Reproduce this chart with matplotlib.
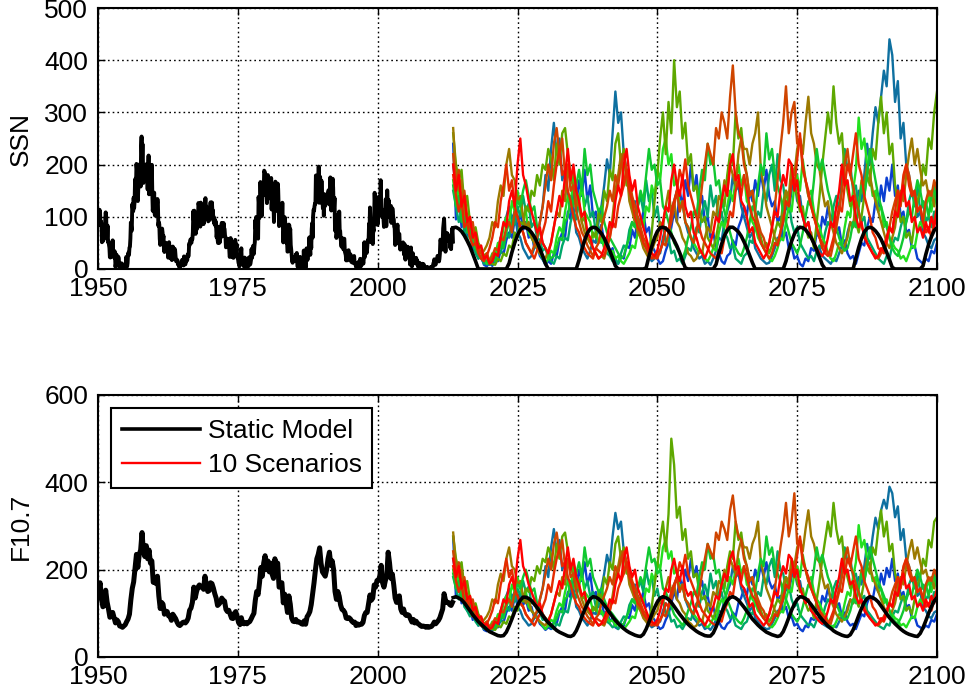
#!/usr/bin/env python3
# SSN and F10.7: historical record, static model and 10 scenarios up to 2100
import numpy as np
import matplotlib.pyplot as plt

plt.rcParams['font.family'] = ['Liberation Sans', 'DejaVu Sans']

# monthly sunspot number, Jan 1950 - Jun 2013
ssn_hist = [
    101.6, 94.8, 109.7, 113.4, 106.2, 83.6, 91.0, 85.2, 51.3, 61.4, 54.8, 54.1,
    59.9, 59.9, 59.9, 92.9, 108.5, 100.6, 61.5, 61.0, 83.1, 51.6, 52.4, 45.8,
    40.7, 22.7, 22.0, 29.1, 23.4, 36.4, 39.3, 54.9, 28.2, 23.8, 22.1, 34.3,
    26.5, 3.9, 10.0, 27.8, 12.5, 21.8, 8.6, 23.5, 19.3, 8.2, 1.6, 2.5,
    0.2, 0.5, 10.9, 1.8, 0.8, 0.2, 4.8, 8.4, 1.5, 7.0, 9.2, 7.6,
    23.1, 20.8, 4.9, 11.3, 28.9, 31.7, 26.7, 40.7, 42.7, 58.5, 89.2, 76.9,
    73.6, 124.0, 118.4, 110.7, 136.6, 116.6, 129.1, 169.6, 173.2, 155.3, 201.3, 192.1,
    165.0, 130.2, 157.4, 175.2, 164.6, 200.7, 187.2, 158.0, 235.8, 253.8, 210.9, 239.4,
    202.5, 164.9, 190.7, 196.0, 175.3, 171.5, 191.4, 200.2, 201.2, 181.5, 152.3, 187.6,
    217.4, 143.1, 185.7, 163.3, 172.0, 168.7, 149.6, 199.6, 145.2, 111.4, 124.0, 125.0,
    146.3, 106.0, 102.2, 122.0, 119.6, 110.2, 121.7, 134.1, 127.2, 82.8, 89.6, 85.6,
    57.9, 46.1, 53.0, 61.4, 51.0, 77.4, 70.2, 55.9, 63.6, 37.7, 32.6, 40.0,
    38.7, 50.3, 45.6, 46.4, 43.7, 42.0, 21.8, 21.8, 51.3, 39.5, 26.9, 23.2,
    19.8, 24.4, 17.1, 29.3, 43.0, 35.9, 19.6, 33.2, 38.8, 35.3, 23.4, 14.9,
    15.3, 17.7, 16.5, 8.6, 9.5, 9.1, 3.1, 9.3, 4.7, 6.1, 7.4, 15.1,
    17.5, 14.2, 11.7, 6.8, 24.1, 15.9, 11.9, 8.9, 16.8, 20.1, 15.8, 17.0,
    28.2, 24.4, 25.3, 48.7, 45.3, 47.7, 56.7, 51.2, 50.2, 57.2, 57.2, 70.4,
    110.9, 93.6, 111.8, 69.5, 86.5, 67.3, 91.5, 107.2, 76.8, 88.2, 94.3, 126.4,
    121.8, 111.9, 92.2, 81.2, 127.2, 110.3, 96.1, 109.3, 117.2, 107.7, 86.0, 109.8,
    104.4, 120.5, 135.8, 106.8, 120.0, 106.0, 96.8, 98.0, 91.3, 95.7, 93.5, 97.9,
    111.5, 127.8, 102.9, 109.5, 127.5, 106.8, 112.5, 93.0, 99.5, 86.6, 95.2, 83.5,
    91.3, 79.0, 60.7, 71.8, 57.5, 49.8, 81.0, 61.4, 50.2, 51.7, 63.2, 82.2,
    61.5, 88.4, 80.1, 63.2, 80.5, 88.0, 76.5, 76.8, 64.0, 61.3, 41.6, 45.3,
    43.4, 42.9, 46.0, 57.7, 42.4, 39.5, 23.1, 25.6, 59.3, 30.7, 23.9, 23.3,
    27.6, 26.0, 21.3, 40.3, 39.5, 36.0, 55.8, 33.6, 40.2, 47.1, 25.0, 20.5,
    18.9, 11.5, 11.5, 5.1, 9.0, 11.4, 28.2, 39.7, 13.9, 9.1, 19.4, 7.8,
    8.1, 4.3, 21.9, 18.8, 12.4, 12.2, 1.9, 16.4, 13.5, 20.6, 5.2, 15.3,
    16.4, 23.1, 8.7, 12.9, 18.6, 38.5, 21.4, 30.1, 44.0, 43.8, 29.1, 43.2,
    51.9, 93.6, 76.5, 99.7, 82.7, 95.1, 70.4, 58.1, 138.2, 125.1, 97.9, 122.7,
    166.6, 137.5, 138.0, 101.5, 134.4, 149.5, 159.4, 142.2, 188.4, 186.2, 183.3, 176.3,
    159.6, 155.0, 126.2, 164.1, 179.9, 157.3, 136.3, 135.4, 155.0, 164.7, 147.9, 174.4,
    114.0, 141.3, 135.5, 156.4, 127.5, 90.0, 143.8, 158.7, 167.3, 162.4, 137.5, 150.1,
    111.2, 163.6, 153.8, 122.0, 82.2, 110.4, 106.1, 107.6, 118.8, 94.7, 98.1, 127.0,
    84.3, 51.0, 66.5, 80.7, 99.2, 91.1, 82.2, 71.8, 50.3, 55.8, 33.3, 33.4,
    57.0, 85.1, 83.5, 69.7, 76.4, 46.1, 37.4, 25.5, 15.7, 12.0, 22.8, 18.7,
    16.5, 15.9, 17.2, 16.2, 27.5, 24.2, 30.7, 11.1, 3.9, 18.6, 16.2, 17.3,
    2.5, 23.2, 15.1, 18.5, 13.7, 1.1, 18.1, 7.4, 3.8, 35.4, 15.2, 6.8,
    10.4, 2.4, 14.7, 39.6, 33.0, 17.4, 33.0, 38.7, 33.9, 60.6, 39.9, 27.1,
    59.0, 40.0, 76.2, 88.0, 60.1, 101.8, 113.8, 111.6, 120.1, 125.1, 125.1, 179.2,
    161.3, 165.1, 131.4, 130.6, 138.5, 196.2, 126.9, 168.9, 176.7, 159.4, 127.2, 169.0,
    137.9, 132.5, 116.4, 136.7, 101.9, 143.5, 126.5, 120.8, 132.0, 127.2, 132.9, 142.6,
    140.9, 143.5, 150.8, 146.3, 123.5, 153.5, 175.5, 132.1, 112.0, 127.0, 137.2, 172.9,
    155.5, 115.5, 119.1, 136.1, 73.5, 85.0, 103.2, 59.5, 68.4, 94.4, 94.2, 101.4,
    65.9, 110.1, 74.9, 73.0, 58.6, 50.8, 42.6, 59.6, 54.2, 46.7, 37.8, 56.8,
    58.0, 33.9, 30.5, 26.8, 16.4, 33.6, 27.1, 16.6, 31.6, 36.0, 19.4, 26.3,
    21.1, 28.3, 23.9, 13.5, 21.3, 20.7, 11.8, 13.0, 16.5, 24.9, 11.8, 9.6,
    10.9, 4.0, 8.8, 8.5, 10.9, 12.2, 7.2, 13.7, 0.5, 2.4, 19.5, 7.6,
    5.7, 8.7, 15.5, 18.5, 12.7, 10.4, 24.4, 51.3, 22.8, 39.0, 41.2, 43.0,
    30.6, 39.9, 53.7, 55.9, 52.5, 86.6, 66.4, 117.8, 80.9, 51.8, 66.0, 71.8,
    84.5, 47.8, 76.7, 72.4, 100.8, 146.0, 124.1, 100.6, 92.5, 125.8, 131.2, 84.6,
    90.1, 112.9, 138.5, 125.5, 121.6, 124.9, 170.1, 130.5, 109.7, 99.4, 106.8, 104.4,
    95.6, 80.6, 113.5, 107.7, 96.6, 134.0, 81.8, 106.4, 150.7, 125.5, 106.5, 132.2,
    114.1, 107.4, 98.4, 120.7, 120.8, 88.3, 99.6, 116.4, 109.6, 97.5, 95.5, 80.8,
    79.7, 46.0, 61.1, 60.0, 55.2, 77.4, 85.0, 72.7, 48.8, 65.5, 67.3, 47.0,
    37.2, 46.0, 48.9, 39.3, 41.5, 43.2, 51.0, 40.9, 27.7, 48.0, 43.5, 17.9,
    31.3, 29.2, 24.5, 24.2, 42.7, 39.3, 40.0, 36.4, 22.1, 8.5, 18.0, 41.2,
    15.3, 4.9, 10.6, 30.2, 22.3, 13.9, 12.2, 12.9, 14.4, 10.5, 21.4, 13.6,
    16.9, 10.6, 4.8, 3.7, 11.7, 12.0, 10.0, 6.2, 2.4, 0.9, 1.7, 10.1,
    3.4, 2.1, 9.3, 2.9, 3.2, 3.4, 0.5, 0.5, 1.1, 2.9, 4.1, 0.8,
    1.5, 1.4, 0.7, 1.2, 2.9, 2.6, 3.5, 0.0, 4.2, 4.6, 4.2, 10.6,
    13.1, 18.6, 15.4, 7.9, 8.8, 13.5, 16.1, 19.6, 25.2, 23.5, 21.6, 14.5,
    19.0, 29.4, 56.2, 54.4, 41.6, 37.0, 43.9, 50.6, 78.0, 88.0, 96.7, 73.0,
    58.3, 33.1, 64.2, 55.2, 69.0, 64.5, 66.5, 63.0, 61.4, 53.3, 61.8, 40.8,
    62.9, 38.0, 57.9, 72.4, 78.7, 52.5,
]

# quarterly F10.7, 1950 Q1 - 2013 Q2
f107_hist = [
    154, 170, 132, 115, 118, 153, 126, 110, 91, 93, 102, 90, 78, 85, 81, 71,
    70, 68, 71, 74, 81, 87, 98, 131, 157, 172, 203, 235, 205, 235, 245, 285,
    240, 230, 255, 225, 245, 215, 220, 171, 175, 168, 185, 140, 111, 125, 121, 98,
    105, 104, 94, 93, 84, 98, 93, 88, 80, 74, 72, 75, 79, 80, 78, 82,
    89, 107, 112, 125, 160, 135, 150, 160, 165, 160, 162, 155, 185, 165, 150, 152,
    170, 168, 158, 145, 135, 118, 121, 125, 135, 130, 128, 109, 104, 107, 98, 89,
    88, 100, 104, 93, 79, 74, 90, 77, 76, 79, 76, 79, 81, 87, 94, 100,
    130, 150, 143, 170, 205, 185, 215, 232, 200, 220, 195, 215, 190, 180, 225, 205,
    215, 160, 165, 170, 124, 144, 125, 102, 140, 121, 89, 82, 81, 86, 80, 81,
    79, 76, 75, 83, 75, 92, 97, 104, 120, 145, 170, 200, 225, 235, 250, 215,
    195, 190, 185, 200, 225, 240, 210, 220, 200, 150, 132, 150, 139, 119, 109, 107,
    102, 89, 88, 90, 87, 82, 79, 80, 72, 76, 73, 75, 75, 79, 95, 102,
    102, 122, 142, 130, 135, 165, 160, 175, 175, 185, 210, 170, 160, 175, 185, 240,
    215, 180, 190, 165, 135, 125, 130, 140, 110, 102, 110, 98, 95, 97, 95, 87,
    80, 86, 78, 82, 77, 75, 72, 70, 71, 70, 68, 70, 68, 69, 70, 74,
    80, 76, 80, 84, 90, 100, 110, 145, 130, 125, 125, 120, 118, 125,
]

# static model, half-yearly from 2013.5 to 2100.0
ssn_static = [
    79, 80, 77, 72, 64, 54, 43, 29, 15, 0, 0, 0, 0,
    0, 0, 0, 0, 0, 0, 0, 11, 32, 50, 65, 75, 80, 79, 76, 70, 62, 51, 39, 25,
    10, 0, 0, 0, 0, 0, 0, 0, 0, 0, 0, 0, 17, 37, 55, 69, 77, 80, 79, 74,
    68, 59, 47, 35, 21, 6, 0, 0, 0, 0, 0, 0, 0, 0, 0, 0, 2, 24, 43, 60,
    72, 79, 80, 78, 73, 65, 55, 44, 31, 16, 2, 0, 0, 0, 0, 0, 0, 0, 0, 0,
    0, 9, 30, 48, 64, 74, 80, 80, 76, 71, 63, 52, 40, 26, 12, 0, 0, 0, 0, 0,
    0, 0, 0, 0, 0, 0, 15, 36, 53, 67, 76, 80, 79, 75, 68, 60, 49, 36, 22, 8,
    0, 0, 0, 0, 0, 0, 0, 0, 0, 0, 0, 21, 41, 58, 71, 78, 80, 78, 73, 66,
    57, 45, 32, 18, 3, 0, 0, 0, 0, 0, 0, 0, 0, 0, 0, 6, 28, 47, 62, 74,
    79,
]
f107_static = [
    136, 138, 135, 131, 124, 115, 106, 97, 89, 81, 75, 69, 63,
    58, 55, 52, 49, 48, 49, 57, 71, 87, 104, 118, 130, 137, 137, 134, 129, 121, 113, 104, 95,
    86, 79, 73, 67, 61, 57, 54, 51, 48, 47, 50, 60, 75, 92, 108, 122, 133, 138, 137, 133,
    127, 119, 110, 101, 92, 84, 77, 71, 65, 60, 56, 53, 50, 48, 47, 52, 64, 80, 97, 113,
    126, 135, 138, 136, 132, 125, 116, 107, 98, 90, 82, 75, 69, 64, 59, 55, 52, 49, 48, 48,
    55, 69, 85, 102, 117, 129, 136, 138, 135, 130, 122, 114, 105, 96, 87, 80, 73, 67, 62, 57,
    54, 51, 49, 47, 49, 58, 73, 90, 107, 121, 132, 138, 137, 134, 128, 120, 111, 102, 93, 85,
    78, 71, 66, 60, 56, 53, 50, 48, 47, 51, 62, 78, 95, 111, 125, 134, 138, 136, 132, 126,
    117, 108, 99, 90, 83, 76, 70, 64, 59, 55, 52, 50, 48, 47, 54, 67, 83, 100, 115, 128,
    136,
]

# scenarios, half-yearly from 2013.5 to 2100.0
ssn_sc01 = [
    240, 95, 140, 80, 100, 60, 70, 35, 45, 20, 25, 8, 5,
    12, 6, 20, 15, 35, 28, 55, 70, 60, 95, 80, 110, 75, 90, 60, 70, 40, 45, 25, 18,
    8, 15, 10, 30, 25, 55, 70, 60, 110, 95, 150, 120, 170, 140, 190, 130, 160, 100, 110, 70,
    85, 50, 60, 30, 40, 15, 10, 25, 20, 45, 40, 75, 60, 100, 85, 110, 70, 80, 45, 35,
    20, 10, 15, 35, 50, 80, 110, 90, 150, 120, 170, 140, 200, 150, 180, 120, 140, 90, 100, 60,
    70, 40, 30, 15, 10, 25, 30, 55, 45, 80, 95, 120, 100, 150, 130, 170, 140, 185, 150, 190,
    140, 120, 130, 90, 100, 60, 70, 40, 45, 20, 25, 10, 5, 20, 15, 40, 35, 70, 60, 100,
    85, 120, 90, 110, 70, 80, 45, 55, 30, 20, 25, 10, 30, 50, 45, 80, 100, 90, 130, 110,
    160, 130, 175, 150, 200, 140, 160, 100, 110, 70, 75, 40, 45, 20, 15, 10, 20, 15, 35, 30,
    50,
]
ssn_sc02 = [
    200, 150, 120, 140, 90, 75, 85, 50, 40, 30, 20, 12, 8,
    10, 8, 25, 40, 60, 85, 100, 120, 95, 110, 70, 60, 40, 30, 20, 25, 40, 55, 90, 120,
    180, 150, 230, 280, 220, 250, 170, 190, 140, 110, 120, 70, 60, 40, 30, 20, 35, 55, 50, 90,
    120, 160, 210, 180, 260, 340, 280, 300, 220, 190, 160, 120, 130, 80, 70, 50, 40, 25, 15, 20,
    35, 30, 60, 80, 70, 110, 130, 150, 115, 130, 90, 70, 60, 40, 30, 20, 25, 10, 15, 8,
    20, 35, 60, 55, 90, 110, 130, 180, 150, 160, 120, 100, 80, 60, 70, 40, 30, 20, 15, 10,
    12, 25, 40, 60, 55, 90, 120, 110, 150, 170, 130, 140, 100, 80, 90, 60, 50, 35, 40, 25,
    20, 15, 10, 20, 15, 30, 45, 40, 70, 90, 80, 120, 150, 130, 180, 240, 200, 260, 310, 280,
    330, 380, 350, 440, 410, 320, 360, 250, 280, 200, 180, 140, 150, 100, 110, 70, 60, 45, 40, 55,
    60,
]
ssn_sc03 = [
    150, 120, 90, 110, 70, 60, 45, 50, 30, 20, 25, 10, 15,
    8, 20, 15, 35, 30, 55, 70, 60, 95, 85, 120, 100, 140, 110, 125, 80, 90, 60, 55, 35,
    40, 20, 15, 10, 25, 20, 45, 60, 55, 90, 110, 95, 130, 160, 120, 140, 100, 110, 70, 80,
    50, 55, 30, 25, 15, 20, 10, 30, 45, 40, 75, 90, 80, 120, 140, 110, 170, 130, 150, 100,
    120, 80, 90, 50, 60, 30, 35, 15, 20, 10, 25, 40, 35, 60, 80, 70, 110, 130, 100, 160,
    120, 140, 90, 110, 70, 60, 40, 45, 20, 15, 10, 25, 30, 55, 50, 90, 110, 100, 150, 130,
    180, 200, 150, 220, 170, 160, 120, 130, 90, 70, 80, 50, 40, 30, 20, 25, 15, 35, 45, 40,
    70, 90, 80, 120, 140, 110, 170, 230, 190, 200, 150, 160, 110, 90, 100, 60, 50, 40, 30, 20,
    15, 10, 25, 20, 45, 60, 55, 80, 100, 90, 130, 150, 120, 160, 110, 130, 90, 100, 80, 110,
    90,
]
ssn_sc04 = [
    170, 130, 160, 100, 110, 80, 60, 70, 40, 30, 20, 25, 10,
    15, 30, 25, 50, 45, 80, 100, 85, 130, 110, 150, 120, 100, 110, 70, 60, 50, 40, 30, 20,
    10, 20, 35, 30, 60, 80, 70, 110, 140, 120, 180, 150, 130, 160, 110, 100, 90, 60, 70, 50,
    60, 40, 45, 30, 35, 20, 25, 15, 10, 20, 30, 45, 40, 70, 95, 80, 120, 110, 160, 140,
    190, 170, 230, 250, 200, 220, 160, 170, 120, 130, 90, 80, 60, 50, 40, 30, 35, 20, 15, 25,
    40, 35, 70, 90, 80, 120, 150, 130, 170, 200, 160, 180, 130, 120, 90, 80, 60, 50, 40, 30,
    20, 15, 25, 40, 60, 55, 90, 120, 110, 160, 180, 150, 210, 170, 140, 150, 110, 90, 80, 60,
    50, 30, 20, 15, 30, 50, 45, 80, 110, 100, 150, 190, 290, 230, 250, 200, 180, 140, 150, 110,
    120, 80, 90, 60, 50, 40, 35, 20, 25, 15, 30, 45, 40, 70, 90, 80, 120, 140, 110, 150,
    130,
]
ssn_sc05 = [
    260, 200, 170, 190, 120, 140, 90, 70, 80, 50, 40, 25, 30,
    15, 10, 8, 20, 15, 30, 25, 45, 40, 70, 60, 90, 85, 120, 110, 150, 140, 180, 160, 200,
    190, 230, 210, 170, 240, 200, 260, 270, 220, 180, 190, 140, 120, 90, 100, 60, 50, 70, 60, 110,
    90, 150, 130, 190, 170, 240, 260, 200, 230, 160, 170, 120, 90, 100, 60, 45, 50, 30, 70, 130,
    180, 250, 300, 220, 320, 260, 400, 310, 340, 250, 280, 200, 220, 150, 160, 110, 90, 100, 60, 50,
    40, 60, 90, 140, 120, 180, 220, 200, 300, 250, 270, 210, 180, 140, 150, 100, 80, 60, 40, 50,
    30, 45, 70, 90, 80, 130, 150, 120, 180, 160, 140, 110, 120, 80, 60, 70, 40, 90, 140, 200,
    250, 300, 260, 350, 280, 240, 260, 180, 150, 120, 130, 90, 70, 100, 140, 180, 160, 230, 210, 280,
    330, 260, 300, 220, 240, 160, 130, 90, 100, 60, 70, 50, 90, 130, 150, 200, 180, 250, 230, 300,
    340,
]
ssn_sc06 = [
    270, 180, 150, 170, 110, 90, 100, 60, 50, 40, 30, 35, 45,
    60, 90, 80, 130, 160, 140, 200, 230, 180, 170, 130, 140, 100, 80, 90, 60, 50, 40, 30, 25,
    20, 35, 50, 80, 110, 100, 150, 130, 200, 170, 160, 120, 130, 90, 70, 60, 50, 40, 30, 20,
    25, 20, 40, 60, 100, 150, 180, 220, 160, 190, 130, 110, 90, 70, 60, 40, 30, 20, 35, 50,
    60, 90, 80, 120, 150, 110, 130, 90, 80, 60, 50, 30, 25, 15, 20, 35, 30, 60, 80, 70,
    110, 100, 140, 130, 170, 150, 200, 180, 160, 220, 250, 230, 230, 200, 240, 260, 300, 190, 160, 120,
    100, 80, 60, 50, 70, 110, 150, 140, 200, 180, 230, 250, 220, 280, 330, 260, 240, 200, 190, 150,
    120, 130, 90, 70, 50, 40, 30, 45, 60, 90, 80, 130, 120, 170, 160, 200, 180, 150, 130, 110,
    90, 70, 50, 40, 60, 80, 120, 150, 130, 180, 220, 250, 200, 230, 190, 160, 170, 140, 150, 120,
    160,
]
ssn_sc07 = [
    220, 160, 190, 130, 150, 100, 80, 90, 50, 40, 30, 20, 30,
    15, 25, 40, 35, 60, 55, 80, 90, 70, 110, 100, 80, 70, 50, 40, 30, 45, 60, 90, 120,
    160, 200, 170, 240, 270, 220, 250, 180, 200, 150, 160, 110, 90, 70, 60, 45, 35, 25, 40, 50,
    80, 100, 120, 150, 130, 180, 160, 200, 220, 190, 170, 140, 120, 100, 80, 60, 50, 40, 30, 20,
    25, 35, 50, 45, 70, 90, 120, 150, 110, 130, 90, 80, 60, 50, 70, 110, 160, 200, 240, 220,
    200, 270, 250, 300, 280, 250, 330, 390, 300, 260, 250, 200, 180, 140, 150, 110, 90, 70, 60, 40,
    50, 80, 120, 170, 230, 280, 350, 260, 300, 320, 240, 250, 190, 170, 140, 120, 100, 80, 60, 50,
    40, 30, 25, 50, 80, 110, 150, 200, 230, 180, 160, 130, 110, 80, 70, 50, 40, 30, 25, 20,
    30, 45, 60, 80, 110, 130, 150, 120, 170, 200, 180, 150, 140, 110, 120, 90, 130, 150, 140, 170,
    150,
]
ssn_sc08 = [
    200, 150, 180, 120, 140, 90, 100, 60, 70, 40, 45, 20, 25,
    10, 15, 30, 25, 60, 90, 80, 130, 150, 120, 200, 250, 180, 160, 130, 110, 90, 70, 80, 50,
    40, 30, 50, 80, 110, 140, 120, 180, 230, 170, 200, 150, 130, 100, 110, 70, 60, 40, 30, 20,
    25, 40, 60, 90, 80, 130, 160, 140, 200, 230, 180, 150, 170, 120, 100, 80, 60, 40, 30, 25,
    35, 60, 90, 120, 110, 170, 200, 160, 140, 180, 120, 100, 110, 70, 60, 40, 30, 20, 35, 50,
    70, 100, 90, 130, 160, 140, 200, 220, 170, 180, 130, 120, 100, 70, 80, 50, 40, 30, 20, 30,
    50, 80, 110, 100, 150, 180, 160, 210, 200, 150, 170, 120, 100, 80, 90, 60, 50, 40, 30, 25,
    35, 60, 90, 80, 120, 150, 200, 160, 170, 130, 140, 100, 80, 90, 60, 50, 40, 30, 20, 25,
    40, 35, 60, 80, 70, 110, 100, 140, 160, 120, 130, 90, 100, 70, 80, 60, 90, 70, 100, 80,
    110,
]
ssn_sc09 = [
    160, 120, 140, 90, 100, 70, 80, 50, 40, 30, 35, 20, 15,
    10, 20, 15, 30, 45, 40, 70, 90, 80, 110, 130, 120, 150, 170, 140, 110, 120, 80, 70, 50,
    40, 30, 20, 25, 40, 60, 55, 90, 100, 140, 120, 160, 190, 150, 230, 180, 200, 150, 130, 110,
    120, 90, 70, 60, 50, 40, 30, 20, 25, 45, 60, 90, 80, 120, 150, 130, 180, 230, 190, 200,
    160, 170, 120, 110, 90, 70, 50, 40, 30, 20, 35, 60, 80, 110, 100, 150, 190, 170, 240, 200,
    210, 160, 170, 130, 110, 90, 70, 50, 40, 30, 25, 40, 60, 90, 120, 110, 160, 200, 180, 260,
    210, 230, 180, 160, 140, 110, 90, 70, 50, 40, 30, 45, 70, 100, 130, 120, 170, 230, 190, 210,
    180, 150, 130, 100, 80, 60, 45, 35, 40, 60, 90, 80, 120, 160, 140, 180, 230, 200, 170, 140,
    120, 100, 80, 60, 40, 30, 25, 40, 60, 90, 110, 100, 140, 170, 150, 120, 130, 100, 140, 160,
    120,
]
ssn_sc10 = [
    180, 140, 110, 130, 80, 90, 60, 45, 50, 30, 20, 15, 25,
    40, 60, 90, 80, 130, 160, 200, 150, 170, 120, 100, 80, 70, 50, 40, 30, 20, 35, 50, 70,
    90, 130, 110, 160, 200, 230, 180, 190, 150, 130, 100, 80, 70, 50, 40, 30, 25, 20, 40, 35,
    30, 25, 45, 60, 90, 80, 120, 140, 160, 190, 150, 130, 100, 80, 70, 50, 40, 30, 20, 25,
    20, 35, 50, 80, 70, 110, 130, 150, 190, 170, 210, 160, 140, 120, 100, 80, 60, 50, 40, 30,
    25, 20, 35, 30, 60, 80, 110, 100, 150, 170, 140, 180, 150, 120, 100, 90, 70, 50, 40, 30,
    20, 30, 50, 45, 70, 90, 130, 120, 170, 160, 210, 260, 200, 170, 150, 120, 100, 80, 60, 40,
    30, 25, 40, 60, 90, 120, 110, 160, 200, 180, 220, 260, 200, 180, 140, 120, 100, 70, 60, 40,
    35, 30, 50, 80, 70, 110, 150, 130, 180, 200, 160, 140, 150, 110, 120, 90, 70, 80, 60, 90,
    120,
]

f107_sc01 = [
    275, 136, 174, 123, 140, 106, 115, 85, 93, 72, 76, 62, 59,
    65, 60, 72, 68, 85, 79, 102, 115, 106, 136, 123, 149, 119, 132, 106, 115, 89, 93, 76, 70,
    62, 68, 64, 81, 76, 102, 115, 106, 149, 136, 183, 157, 200, 174, 217, 166, 191, 140, 149, 115,
    127, 98, 106, 81, 89, 68, 64, 76, 72, 93, 89, 119, 106, 140, 127, 149, 115, 123, 93, 85,
    72, 64, 68, 85, 98, 123, 149, 132, 183, 157, 200, 174, 225, 183, 208, 157, 174, 132, 140, 106,
    115, 89, 81, 68, 64, 76, 81, 102, 93, 123, 136, 157, 140, 183, 166, 200, 174, 212, 183, 217,
    174, 157, 166, 132, 140, 106, 115, 89, 93, 72, 76, 64, 59, 72, 68, 89, 85, 115, 106, 140,
    127, 157, 132, 149, 115, 123, 93, 102, 81, 72, 76, 64, 81, 98, 93, 123, 140, 132, 166, 149,
    191, 166, 204, 183, 225, 174, 191, 140, 149, 115, 119, 89, 93, 72, 68, 64, 72, 68, 85, 81,
    98,
]
f107_sc02 = [
    225, 183, 157, 174, 132, 119, 127, 98, 89, 81, 72, 65, 62,
    64, 62, 76, 89, 106, 127, 140, 157, 136, 149, 115, 106, 89, 81, 72, 76, 89, 102, 132, 157,
    208, 183, 251, 293, 242, 268, 200, 217, 174, 149, 157, 115, 106, 89, 81, 72, 85, 102, 98, 132,
    157, 191, 234, 208, 276, 330, 293, 310, 242, 217, 191, 157, 166, 123, 115, 98, 89, 76, 68, 72,
    85, 81, 106, 123, 115, 149, 166, 183, 153, 166, 132, 115, 106, 89, 81, 72, 76, 64, 68, 62,
    72, 85, 106, 102, 132, 149, 166, 208, 183, 191, 157, 140, 123, 106, 115, 89, 81, 72, 68, 64,
    65, 76, 89, 106, 102, 132, 157, 149, 183, 200, 166, 174, 140, 123, 132, 106, 98, 85, 89, 76,
    72, 68, 64, 72, 68, 81, 93, 89, 115, 132, 123, 157, 183, 166, 208, 259, 225, 276, 319, 293,
    336, 360, 340, 390, 375, 320, 345, 268, 293, 225, 208, 174, 183, 140, 149, 115, 106, 93, 89, 102,
    106,
]
f107_sc03 = [
    183, 157, 132, 149, 115, 106, 93, 98, 81, 72, 76, 64, 68,
    62, 72, 68, 85, 81, 102, 115, 106, 136, 127, 157, 140, 174, 149, 161, 123, 132, 106, 102, 85,
    89, 72, 68, 64, 76, 72, 93, 106, 102, 132, 149, 136, 166, 191, 157, 174, 140, 149, 115, 123,
    98, 102, 81, 76, 68, 72, 64, 81, 93, 89, 119, 132, 123, 157, 174, 149, 200, 166, 183, 140,
    157, 123, 132, 98, 106, 81, 85, 68, 72, 64, 76, 89, 85, 106, 123, 115, 149, 166, 140, 191,
    157, 174, 132, 149, 115, 106, 89, 93, 72, 68, 64, 76, 81, 102, 98, 132, 149, 140, 183, 166,
    208, 225, 183, 242, 200, 191, 157, 166, 132, 115, 123, 98, 89, 81, 72, 76, 68, 85, 93, 89,
    115, 132, 123, 157, 174, 149, 200, 251, 217, 225, 183, 191, 149, 132, 140, 106, 98, 89, 81, 72,
    68, 64, 76, 72, 93, 106, 102, 123, 140, 132, 166, 183, 157, 191, 149, 166, 132, 140, 123, 149,
    132,
]
f107_sc04 = [
    200, 166, 191, 140, 149, 123, 106, 115, 89, 81, 72, 76, 64,
    68, 81, 76, 98, 93, 123, 140, 127, 166, 149, 183, 157, 140, 149, 115, 106, 98, 89, 81, 72,
    64, 72, 85, 81, 106, 123, 115, 149, 174, 157, 208, 183, 166, 191, 149, 140, 132, 106, 115, 98,
    106, 89, 93, 81, 85, 72, 76, 68, 64, 72, 81, 93, 89, 115, 136, 123, 157, 149, 191, 174,
    217, 200, 251, 268, 225, 242, 191, 200, 157, 166, 132, 123, 106, 98, 89, 81, 85, 72, 68, 76,
    89, 85, 115, 132, 123, 157, 183, 166, 200, 225, 191, 208, 166, 157, 132, 123, 106, 98, 89, 81,
    72, 68, 76, 89, 106, 102, 132, 157, 149, 191, 208, 183, 234, 200, 174, 183, 149, 132, 123, 106,
    98, 81, 72, 68, 81, 98, 93, 123, 149, 140, 183, 217, 302, 251, 268, 225, 208, 174, 183, 149,
    157, 123, 132, 106, 98, 89, 85, 72, 76, 68, 81, 93, 89, 115, 132, 123, 157, 174, 149, 183,
    166,
]
f107_sc05 = [
    276, 225, 200, 217, 157, 174, 132, 115, 123, 98, 89, 76, 81,
    68, 64, 62, 72, 68, 81, 76, 93, 89, 115, 106, 132, 127, 157, 149, 183, 174, 208, 191, 225,
    217, 251, 234, 200, 259, 225, 276, 285, 242, 208, 217, 174, 157, 132, 140, 106, 98, 115, 106, 149,
    132, 183, 166, 217, 200, 259, 276, 225, 251, 191, 200, 157, 132, 140, 106, 93, 98, 81, 115, 166,
    208, 268, 310, 242, 327, 500, 440, 319, 344, 268, 293, 225, 242, 183, 191, 149, 132, 140, 106, 98,
    89, 106, 132, 174, 157, 208, 242, 225, 310, 268, 285, 234, 208, 174, 183, 140, 123, 106, 89, 98,
    81, 93, 115, 132, 123, 166, 183, 157, 208, 191, 174, 149, 157, 123, 106, 115, 89, 132, 174, 225,
    268, 310, 276, 353, 293, 259, 276, 208, 183, 157, 166, 132, 115, 140, 174, 208, 191, 251, 234, 293,
    336, 276, 310, 242, 259, 191, 166, 132, 140, 106, 115, 98, 132, 166, 183, 225, 208, 268, 251, 310,
    320,
]
f107_sc06 = [
    285, 208, 183, 200, 149, 132, 140, 106, 98, 89, 81, 85, 93,
    106, 132, 123, 166, 191, 174, 225, 251, 208, 200, 166, 174, 140, 123, 132, 106, 98, 89, 81, 76,
    72, 85, 98, 123, 149, 140, 183, 166, 225, 200, 191, 157, 166, 132, 115, 106, 98, 89, 81, 72,
    76, 72, 89, 106, 140, 183, 208, 242, 191, 217, 166, 149, 132, 115, 106, 89, 81, 72, 85, 98,
    106, 132, 123, 157, 183, 149, 166, 132, 123, 106, 98, 81, 76, 68, 72, 85, 81, 106, 123, 115,
    149, 140, 174, 166, 200, 183, 225, 208, 191, 242, 268, 251, 251, 225, 259, 276, 310, 217, 191, 157,
    140, 123, 106, 98, 115, 149, 183, 174, 225, 208, 251, 268, 242, 293, 336, 276, 259, 225, 217, 183,
    157, 166, 132, 115, 98, 89, 81, 93, 106, 132, 123, 166, 157, 200, 191, 225, 208, 183, 166, 149,
    132, 115, 98, 89, 106, 123, 157, 183, 166, 208, 242, 268, 225, 251, 217, 191, 200, 174, 183, 157,
    191,
]
f107_sc07 = [
    242, 191, 217, 166, 183, 140, 123, 132, 98, 89, 81, 72, 81,
    68, 76, 89, 85, 106, 102, 123, 132, 115, 149, 140, 123, 115, 98, 89, 81, 93, 106, 132, 157,
    191, 225, 200, 259, 285, 242, 268, 208, 225, 183, 191, 149, 132, 115, 106, 93, 85, 76, 89, 98,
    123, 140, 157, 183, 166, 208, 191, 225, 242, 217, 200, 174, 157, 140, 123, 106, 98, 89, 81, 72,
    76, 85, 98, 93, 115, 132, 157, 183, 149, 166, 132, 123, 106, 98, 115, 149, 191, 225, 259, 242,
    225, 285, 268, 310, 293, 268, 336, 370, 310, 276, 268, 225, 208, 174, 183, 149, 132, 115, 106, 89,
    98, 123, 157, 200, 251, 293, 353, 276, 310, 375, 259, 268, 217, 200, 174, 157, 140, 123, 106, 98,
    89, 81, 76, 98, 123, 149, 183, 225, 251, 208, 191, 166, 149, 123, 115, 98, 89, 81, 76, 72,
    81, 93, 106, 123, 149, 166, 183, 157, 200, 225, 208, 183, 174, 149, 157, 132, 166, 183, 174, 200,
    183,
]
f107_sc08 = [
    225, 183, 208, 157, 174, 132, 140, 106, 115, 89, 93, 72, 76,
    64, 68, 81, 76, 106, 132, 123, 166, 183, 157, 225, 268, 208, 191, 166, 149, 132, 115, 123, 98,
    89, 81, 98, 123, 149, 174, 157, 208, 251, 200, 225, 183, 166, 140, 149, 115, 106, 89, 81, 72,
    76, 89, 106, 132, 123, 166, 191, 174, 225, 251, 208, 183, 200, 157, 140, 123, 106, 89, 81, 76,
    85, 106, 132, 157, 149, 200, 225, 191, 174, 208, 157, 140, 149, 115, 106, 89, 81, 72, 85, 98,
    115, 140, 132, 166, 191, 174, 225, 242, 200, 208, 166, 157, 140, 115, 123, 98, 89, 81, 72, 81,
    98, 123, 149, 140, 183, 208, 191, 234, 225, 183, 200, 157, 140, 123, 132, 106, 98, 89, 81, 76,
    85, 106, 132, 123, 157, 183, 225, 191, 200, 166, 174, 140, 123, 132, 106, 98, 89, 81, 72, 76,
    89, 85, 106, 123, 115, 149, 140, 174, 191, 157, 166, 132, 140, 115, 123, 106, 132, 115, 140, 123,
    149,
]
f107_sc09 = [
    191, 157, 174, 132, 140, 115, 123, 98, 89, 81, 85, 72, 68,
    64, 72, 68, 81, 93, 89, 115, 132, 123, 149, 166, 157, 183, 200, 174, 149, 157, 123, 115, 98,
    89, 81, 72, 76, 89, 106, 102, 132, 140, 174, 157, 191, 217, 183, 251, 208, 225, 183, 166, 149,
    157, 132, 115, 106, 98, 89, 81, 72, 76, 93, 106, 132, 123, 157, 183, 166, 208, 251, 217, 225,
    191, 200, 157, 149, 132, 115, 98, 89, 81, 72, 85, 106, 123, 149, 140, 183, 217, 200, 259, 225,
    234, 191, 200, 166, 149, 132, 115, 98, 89, 81, 76, 89, 106, 132, 157, 149, 191, 225, 208, 276,
    234, 251, 208, 191, 174, 149, 132, 115, 98, 89, 81, 93, 115, 140, 166, 157, 200, 251, 217, 234,
    208, 183, 166, 140, 123, 106, 93, 85, 89, 106, 132, 123, 157, 191, 174, 208, 251, 225, 200, 174,
    157, 140, 123, 106, 89, 81, 76, 89, 106, 132, 149, 140, 174, 200, 183, 157, 166, 140, 174, 191,
    157,
]
f107_sc10 = [
    208, 174, 149, 166, 123, 132, 106, 93, 98, 81, 72, 68, 76,
    89, 106, 132, 123, 166, 191, 225, 183, 200, 157, 140, 123, 115, 98, 89, 81, 72, 85, 98, 115,
    132, 166, 149, 191, 225, 251, 208, 217, 183, 166, 140, 123, 115, 98, 89, 81, 76, 72, 89, 85,
    81, 76, 93, 106, 132, 123, 157, 174, 191, 217, 183, 166, 140, 123, 115, 98, 89, 81, 72, 76,
    72, 85, 98, 123, 115, 149, 166, 183, 217, 200, 234, 191, 174, 157, 140, 123, 106, 98, 89, 81,
    76, 72, 85, 81, 106, 123, 149, 140, 183, 200, 174, 208, 183, 157, 140, 132, 115, 98, 89, 81,
    72, 81, 98, 93, 115, 132, 166, 157, 200, 191, 234, 276, 225, 200, 183, 157, 140, 123, 106, 89,
    81, 76, 89, 106, 132, 157, 149, 191, 225, 208, 242, 276, 225, 208, 174, 157, 140, 115, 106, 89,
    85, 81, 98, 123, 115, 149, 183, 166, 208, 225, 191, 174, 183, 149, 157, 132, 115, 123, 106, 132,
    157,
]

# drawing order: red last so it sits on top of the other scenarios
scen_colors = ['#0b3fd1', '#0e70a0', '#00a86a', '#22e01e', '#5ea800',
               '#9c7a00', '#10c830', '#cf4500', '#e52b00', '#ff0000']
ssn_scen = [ssn_sc01, ssn_sc02, ssn_sc03, ssn_sc04, ssn_sc05,
            ssn_sc06, ssn_sc09, ssn_sc07, ssn_sc10, ssn_sc08]
f107_scen = [f107_sc01, f107_sc02, f107_sc03, f107_sc04, f107_sc05,
             f107_sc06, f107_sc09, f107_sc07, f107_sc10, f107_sc08]

FS = 19


def half_years(vals):
    return 2013.5 + 0.5 * np.arange(len(vals))


def style_axes(ax, ymax, ystep, ylabel):
    ax.set_xlim(1950, 2100)
    ax.set_ylim(0, ymax)
    ax.set_xticks(range(1950, 2101, 25))
    ax.set_yticks(range(0, ymax + 1, ystep))
    ax.grid(True, color='k', linestyle=(0, (1.2, 2.2)), linewidth=1.0)
    ax.tick_params(direction='in', top=True, right=True, length=5, width=1,
                   labelsize=FS, colors='k')
    ax.tick_params(axis='x', pad=6)
    ax.tick_params(axis='y', pad=7)
    for sp in ax.spines.values():
        sp.set_linewidth(1.5)
    ax.set_ylabel(ylabel, fontsize=FS, labelpad=8)


fig = plt.figure(figsize=(9.73, 6.98), dpi=100)
ax1 = fig.add_axes([98 / 973, 1 - 269 / 698, 839 / 973, 261 / 698])
ax2 = fig.add_axes([98 / 973, 1 - 657 / 698, 839 / 973, 262 / 698])

# top: sunspot number
for vals, col in zip(ssn_scen, scen_colors):
    ax1.plot(half_years(vals), vals, color=col, lw=1.7)
t_hist = 1950 + (np.arange(len(ssn_hist)) + 0.5) / 12
ax1.plot(t_hist, ssn_hist, color='k', lw=2.8)
ax1.plot(half_years(ssn_static), ssn_static, color='k', lw=2.6)
style_axes(ax1, 500, 100, 'SSN')

# bottom: F10.7
lines = []
for vals, col in zip(f107_scen, scen_colors):
    ln, = ax2.plot(half_years(vals), vals, color=col, lw=1.7)
    lines.append(ln)
tq_hist = 1950 + (np.arange(len(f107_hist)) + 0.5) / 4
ax2.plot(tq_hist, f107_hist, color='k', lw=3.6)
static_ln, = ax2.plot(half_years(f107_static), f107_static, color='k', lw=2.6)
style_axes(ax2, 600, 200, 'F10.7')

leg = ax2.legend([static_ln, lines[-1]], ['Static Model', '10 Scenarios'],
                 loc='upper left', fontsize=FS, handlelength=2.95,
                 handletextpad=0.3, labelspacing=0.4, fancybox=False,
                 framealpha=1, edgecolor='k', borderaxespad=0.5)
leg.get_frame().set_linewidth(1.5)

fig.savefig('out.png', dpi=100)
